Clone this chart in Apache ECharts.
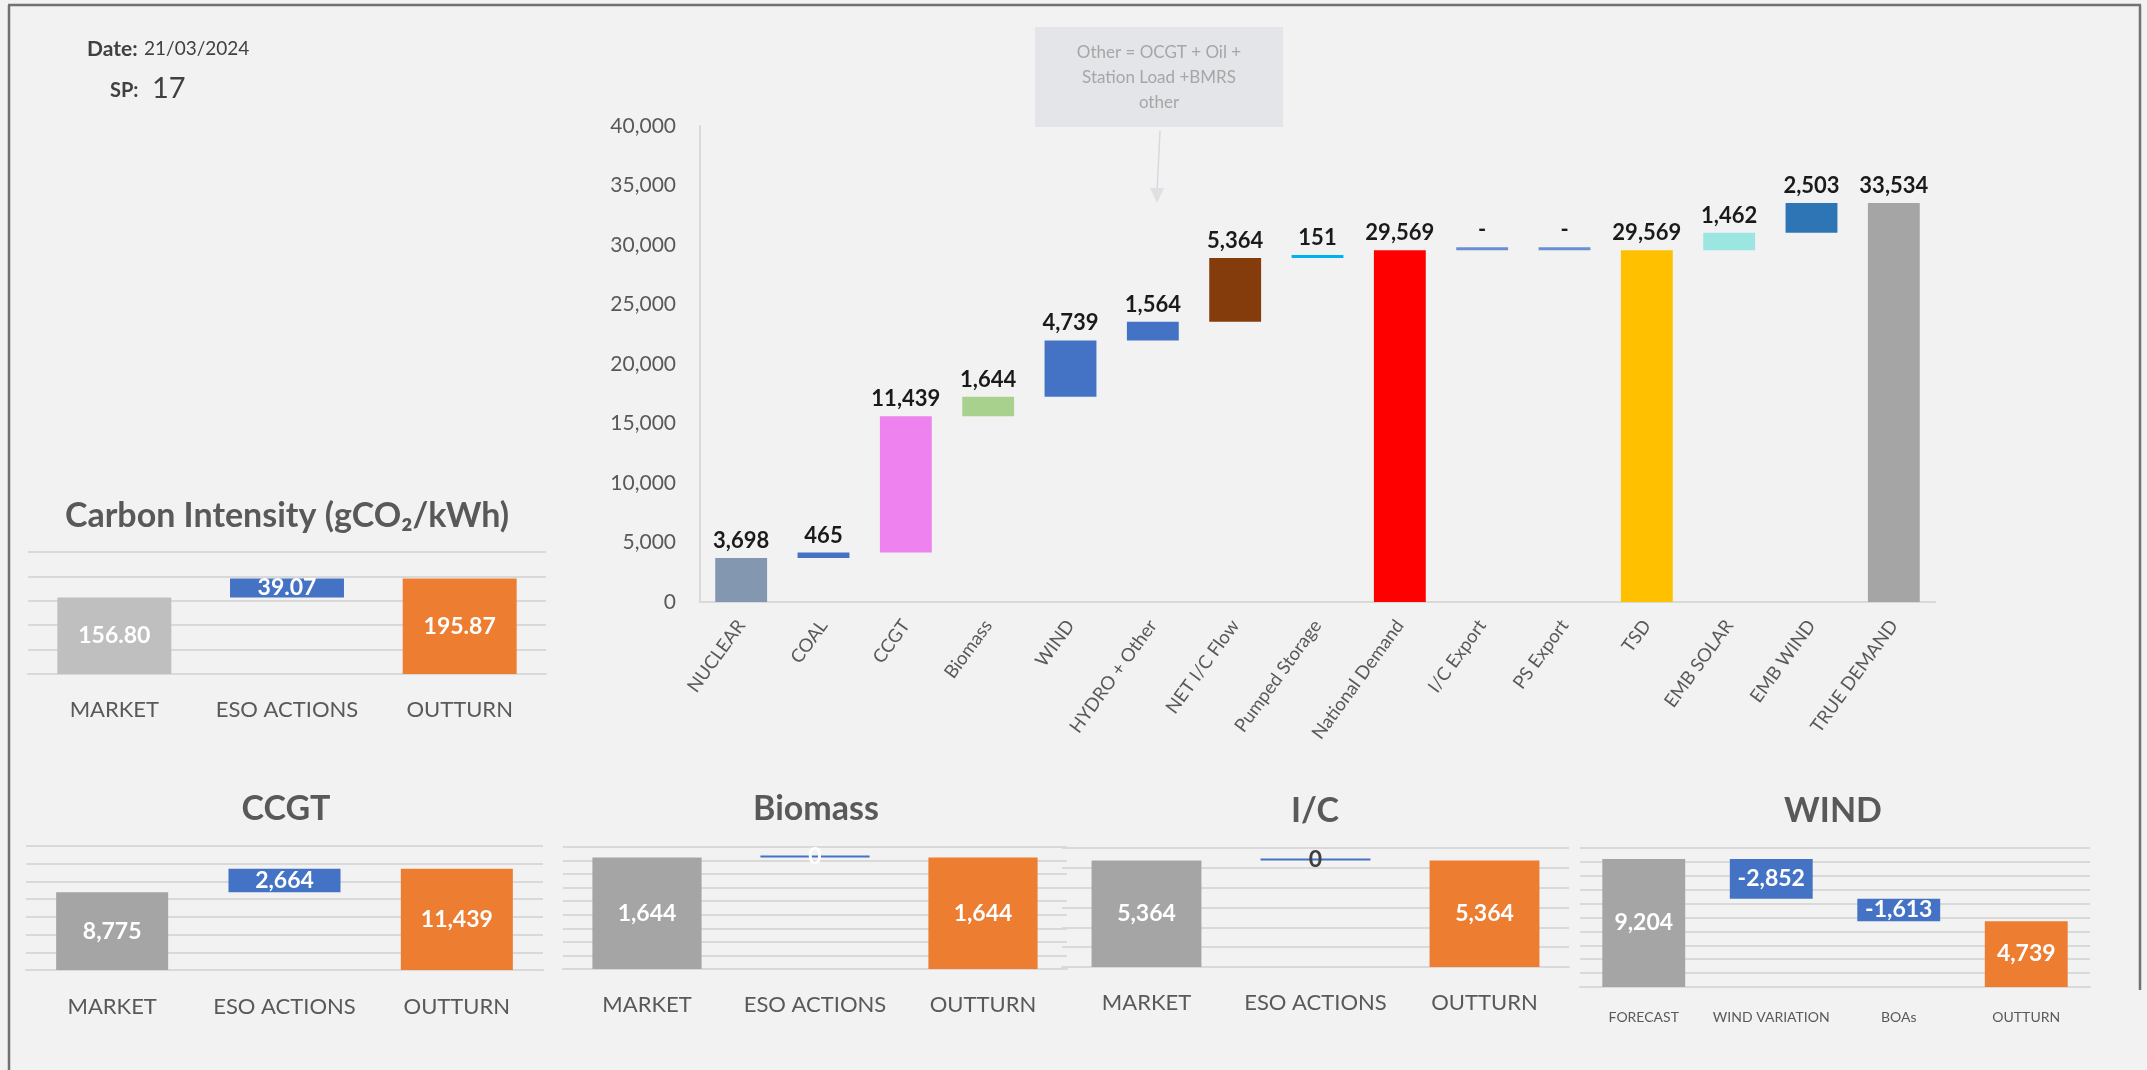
<!DOCTYPE html>
<html>
<head>
<meta charset="utf-8">
<script src="https://cdn.jsdelivr.net/npm/echarts@6/dist/echarts.min.js"></script>
<style>
html,body{margin:0;padding:0;background:#F2F2F2;}
#c{width:2147px;height:1070px;}
</style>
</head>
<body>
<div id="c"></div>
<script>
// ---------- DATA ----------
const mainCategories = ['NUCLEAR','COAL','CCGT','Biomass','WIND','HYDRO + Other','NET I/C Flow','Pumped Storage','National Demand','I/C Export','PS Export','TSD','EMB SOLAR','EMB WIND','TRUE DEMAND'];
const mainValues = [3698, 465, 11439, 1644, 4739, 1564, 5364, 151, 29569, 0, 0, 29569, 1462, 2503, 33534];
const mainKinds = ['step','step','step','step','step','step','step','step','total','step','step','total','step','step','total'];
const mainColors = ['#8497B0','#4472C4','#EE82EE','#A9D18E','#4472C4','#4472C4','#843C0C','#00B0F0','#FF0000','#6A8FD2','#6A8FD2','#FFC000','#9BE6E1','#2E75B6','#A5A5A5'];
const mainYTicks = {min: 0, max: 40000, interval: 5000};

const esoCategories = ['MARKET','ESO ACTIONS','OUTTURN'];
const esoKinds = ['total','step','total'];

const ciValues = [156.80, 39.07, 195.87];
const ciColors = ['#BFBFBF','#4472C4','#ED7D31'];
const ciAxis = {max: 250, interval: 50};

const ccgtValues = [8775, 2664, 11439];
const ccgtAxis = {max: 14000, interval: 2000};

const biomassValues = [1644, 0, 1644];
const biomassAxis = {max: 1800, interval: 200};

const icValues = [5364, 0, 5364];
const icAxis = {max: 6000, interval: 1000};

const windCategories = ['FORECAST','WIND VARIATION','BOAs','OUTTURN'];
const windValues = [9204, -2852, -1613, 4739];
const windKinds = ['total','step','step','total'];
const windAxis = {max: 10000, interval: 1000};

const panelColors = ['#A5A5A5','#4472C4','#ED7D31'];
const windColors = ['#A5A5A5','#4472C4','#4472C4','#ED7D31'];

// ---------- helpers ----------
const FONT = 'Lato, "Open Sans", "Noto Sans", sans-serif';
function waterfall(values, kinds) {
  let run = 0; const base = [], height = [];
  values.forEach((v, i) => {
    if (kinds[i] === 'total') { base.push(0); height.push(v); run = v; }
    else if (v >= 0) { base.push(run); height.push(v); run += v; }
    else { base.push(run + v); height.push(-v); run += v; }
  });
  return {base, height};
}
const fmtInt = v => Math.round(v).toLocaleString('en-US');

const grids = [], xAxes = [], yAxes = [], series = [];

// main chart
(function(){
  const idx = 0;
  grids.push({left: 700, top: 126, width: 1235, height: 476});
  xAxes.push({type:'category', gridIndex: idx, data: mainCategories,
    axisLine:{show:true, lineStyle:{color:'#D9D9D9', width:2}}, axisTick:{show:false},
    splitLine:{show:false},
    axisLabel:{interval:0, rotate:54, margin:20, color:'#595959', fontSize:18.5, fontFamily:FONT}});
  yAxes.push({type:'value', gridIndex: idx, min: mainYTicks.min, max: mainYTicks.max, interval: mainYTicks.interval,
    axisLine:{show:true, lineStyle:{color:'#D9D9D9', width:2}}, axisTick:{show:false},
    splitLine:{show:false},
    axisLabel:{color:'#595959', fontSize:21, fontFamily:FONT, margin:24, formatter: v => fmtInt(v)}});
  const w = waterfall(mainValues, mainKinds);
  series.push({type:'bar', xAxisIndex:idx, yAxisIndex:idx, stack:'main', barWidth:'63%', silent:true,
    itemStyle:{color:'transparent'}, data: w.base});
  series.push({type:'bar', xAxisIndex:idx, yAxisIndex:idx, stack:'main', barWidth:'63%', barMinHeight:3,
    data: w.height.map((h,i)=>({value:h, itemStyle:{color: mainColors[i]}})),
    label:{show:true, position:'top', distance:6, color:'#1a1a1a', fontWeight:'bold', fontSize:22, fontFamily:FONT,
      formatter: p => mainValues[p.dataIndex] === 0 ? '-' : fmtInt(mainValues[p.dataIndex])}});
})();

function addPanel(box, cats, values, kinds, colors, axis, opts) {
  const idx = grids.length;
  grids.push(box);
  xAxes.push({type:'category', gridIndex: idx, data: cats,
    axisLine:{show:true, lineStyle:{color:'#D9D9D9', width:2}}, axisTick:{show:false}, splitLine:{show:false},
    axisLabel:{interval:0, margin: opts.labelMargin, color:'#595959', fontSize: opts.catFont, fontFamily:FONT}});
  yAxes.push({type:'value', gridIndex: idx, min:0, max: axis.max, interval: axis.interval,
    axisLine:{show:false}, axisTick:{show:false}, axisLabel:{show:false},
    splitLine:{show:true, lineStyle:{color:'#D9D9D9', width:2}}});
  const w = waterfall(values, kinds);
  const stack = 'p' + idx;
  series.push({type:'bar', xAxisIndex:idx, yAxisIndex:idx, stack, barWidth: opts.barWidth, silent:true,
    itemStyle:{color:'transparent'}, data: w.base});
  series.push({type:'bar', xAxisIndex:idx, yAxisIndex:idx, stack, barWidth: opts.barWidth, barMinHeight:2,
    data: w.height.map((h,i)=>({value:h, itemStyle:{color: colors[i]},
      label: (values[i] === 0 && opts.zeroColor) ? {color: opts.zeroColor} : undefined})),
    label:{show:true, position:'inside', color:'#FFFFFF', fontWeight:'bold', fontSize: 23, fontFamily:FONT,
      formatter: p => opts.fmt(values[p.dataIndex])}});
}

addPanel({left:28, top:552, width:518, height:122}, esoCategories, ciValues, esoKinds, ciColors, ciAxis,
  {labelMargin:25, catFont:22, barWidth:'66%', fmt: v => v.toFixed(2)});
addPanel({left:26, top:846, width:517, height:124}, esoCategories, ccgtValues, esoKinds, panelColors, ccgtAxis,
  {labelMargin:26, catFont:22, barWidth:'65%', fmt: fmtInt});
addPanel({left:563, top:847, width:504, height:122}, esoCategories, biomassValues, esoKinds, panelColors, biomassAxis,
  {labelMargin:25, catFont:22, barWidth:'65%', fmt: fmtInt});
addPanel({left:1062, top:848, width:507, height:119}, esoCategories, icValues, esoKinds, panelColors, icAxis,
  {labelMargin:25, catFont:22, barWidth:'65%', fmt: fmtInt, zeroColor:'#404040'});
addPanel({left:1580, top:848, width:510, height:139}, windCategories, windValues, windKinds, windColors, windAxis,
  {labelMargin:23, catFont:14, barWidth:'65%', fmt: fmtInt});

// ---------- annotations ----------
function txt(x, y, text, size, weight, color, align) {
  return {type:'text', x, y, silent:true, style:{text, fontSize:size, fontWeight:weight||'normal',
    fontFamily:FONT, fill: color||'#595959', textAlign: align||'center', textVerticalAlign:'middle'}};
}
const graphics = [
  {type:'line', silent:true, shape:{x1:8, y1:5, x2:2141, y2:5}, style:{stroke:'#767171', lineWidth:2.5}},
  {type:'line', silent:true, shape:{x1:9, y1:5, x2:9, y2:1070}, style:{stroke:'#767171', lineWidth:2.5}},
  {type:'line', silent:true, shape:{x1:2140, y1:5, x2:2140, y2:990}, style:{stroke:'#767171', lineWidth:2.5}},
  txt(87, 49, 'Date:', 21, 'bold', '#404040', 'left'),
  txt(144, 49, '21/03/2024', 19, 'normal', '#404040', 'left'),
  txt(110, 91, 'SP:', 20, 'bold', '#404040', 'left'),
  txt(152, 89, '17', 29, 'normal', '#404040', 'left'),
  {type:'rect', silent:true, shape:{x:1035, y:27, width:248, height:100}, style:{fill:'#E4E5E8'}},
  txt(1159, 53, 'Other = OCGT + Oil +', 17, 'normal', '#A6A6A6'),
  txt(1159, 78, 'Station Load +BMRS', 17, 'normal', '#A6A6A6'),
  txt(1159, 103, 'other', 17, 'normal', '#A6A6A6'),
  {type:'line', silent:true, shape:{x1:1160, y1:131, x2:1157, y2:192}, style:{stroke:'#D6D9DE', lineWidth:1.5}},
  {type:'polygon', silent:true, shape:{points:[[1150,188],[1164,188],[1157,203]]}, style:{fill:'#DEE0E4'}},
  txt(287, 516, 'Carbon Intensity (gCO₂/kWh)', 34, 'bold', '#595959'),
  txt(286, 809, 'CCGT', 34, 'bold', '#595959'),
  txt(816, 809, 'Biomass', 34, 'bold', '#595959'),
  txt(1315, 811, 'I/C', 34, 'bold', '#595959'),
  txt(1833, 811, 'WIND', 34, 'bold', '#595959')
];

const chart = echarts.init(document.getElementById('c'), null, {renderer:'canvas'});
chart.setOption({
  backgroundColor:'#F2F2F2',
  animation:false,
  grid: grids, xAxis: xAxes, yAxis: yAxes, series,
  graphic: graphics
});
</script>
</body>
</html>
